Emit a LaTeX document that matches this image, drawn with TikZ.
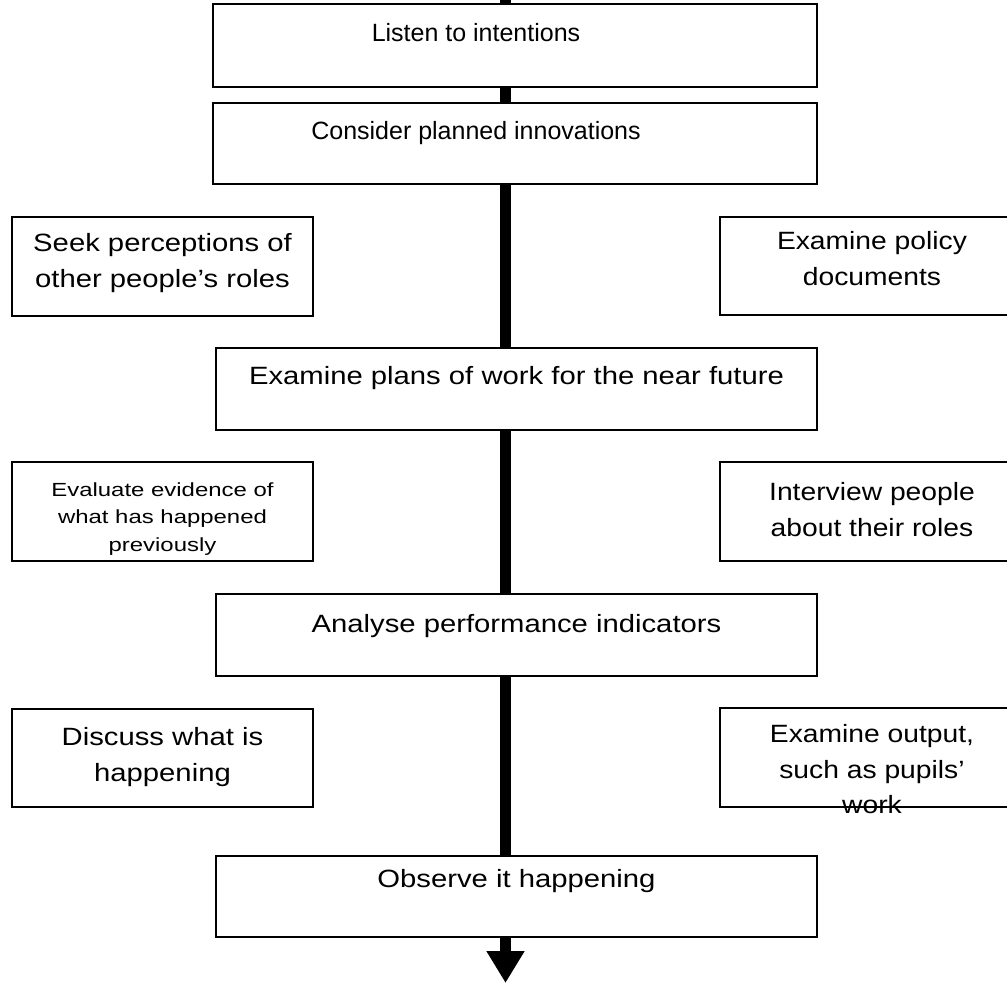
\documentclass[tikz,border=0pt]{standalone}
\usepackage{fontspec}
\setmainfont{Liberation Sans}
\newfontfamily\wideface[FakeStretch=1.17]{Liberation Sans}
\newfontfamily\rightface[FakeStretch=1.13]{Liberation Sans}
\newfontfamily\smallface[FakeStretch=1.26]{Liberation Sans}
\usetikzlibrary{arrows.meta,positioning}

\tikzset{
  stage/.style={draw, line width=1.6pt, fill=white, inner sep=0pt},
  words/.style={inner sep=0pt, align=center, font=\fontsize{25}{35.5}\selectfont},
  widewords/.style={words, font=\wideface\fontsize{25}{35.5}\selectfont},
  rightwords/.style={words, font=\rightface\fontsize{25}{35.5}\selectfont},
  smallwords/.style={words, font=\smallface\fontsize{19}{27.5}\selectfont},
  spine/.style={line width=11pt, -{Triangle[width=36pt,length=32pt]}},
}

\begin{document}
\begin{tikzpicture}[x=1pt,y=-1pt]
  \useasboundingbox (0,0) rectangle (1007,983);
  \clip (0,0) rectangle (1007,983);
  % main line down the page
  \coordinate (start) at (505.5,0);
  \coordinate (finish) at (505.5,983);
  \draw[spine] (start) -- (finish);

  % middle column
  \node[stage, minimum width=604pt, minimum height=83pt] (listen) at (515,45.5) {};
  \node[words, below=20pt of listen.north, xshift=-39pt] (listentxt) {Listen to intentions};
  \node[stage, minimum width=604pt, minimum height=81pt] (consider) at (515,143.5) {};
  \node[words, below=19pt of consider.north, xshift=-39pt] (considertxt) {Consider planned innovations};
  \node[stage, minimum width=601pt, minimum height=82pt] (plans) at (516.5,389) {};
  \node[widewords, below=19pt of plans.north] (planstxt) {Examine plans of work for the near future};
  \node[stage, minimum width=601pt, minimum height=82pt] (analyse) at (516.5,635) {};
  \node[widewords, below=21pt of analyse.north] (analysetxt) {Analyse performance indicators};
  \node[stage, minimum width=601pt, minimum height=81pt] (observe) at (516.5,896.5) {};
  \node[widewords, below=14pt of observe.north] (observetxt) {Observe it happening};

  % left column
  \node[stage, minimum width=301pt, minimum height=99pt] (seek) at (162.5,266.5) {};
  \node[widewords, below=17pt of seek.north] (seektxt) {Seek perceptions of\\other people’s roles};
  \node[stage, minimum width=301pt, minimum height=99pt] (evaluate) at (162.5,511.5) {};
  \node[smallwords, below=21pt of evaluate.north] (evaluatetxt) {Evaluate evidence of\\what has happened\\previously};
  \node[stage, minimum width=301pt, minimum height=98pt] (discuss) at (162.5,758) {};
  \node[widewords, below=19pt of discuss.north] (discusstxt) {Discuss what is\\happening};

  % right column (runs off the page)
  \node[stage, minimum width=304pt, minimum height=98pt] (policy) at (872,266) {};
  \node[rightwords, below=15pt of policy.north] (policytxt) {Examine policy\\documents};
  \node[stage, minimum width=304pt, minimum height=99pt] (interview) at (872,511.5) {};
  \node[rightwords, below=21pt of interview.north] (interviewtxt) {Interview people\\about their roles};
  \node[stage, minimum width=304pt, minimum height=99pt] (output) at (872,757.5) {};
  \node[rightwords, below=17pt of output.north] (outputtxt) {Examine output,\\such as pupils’\\work};
\end{tikzpicture}
\end{document}
